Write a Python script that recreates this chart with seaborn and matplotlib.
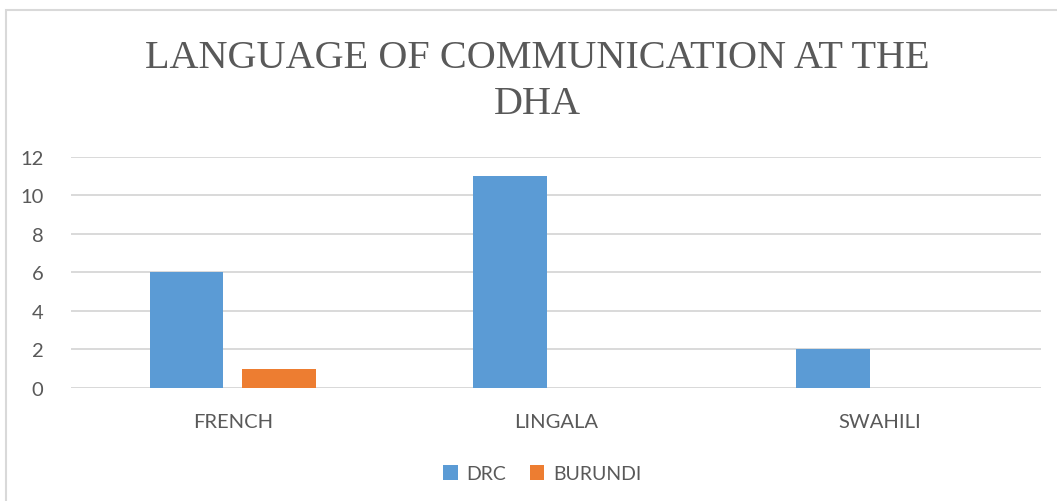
import matplotlib
matplotlib.use("Agg")
import matplotlib.pyplot as plt
from matplotlib.patches import Rectangle, Patch
import pandas as pd
import seaborn as sns

# Chart data
languages = ["FRENCH", "LINGALA", "SWAHILI"]
drc_counts = [6, 11, 2]
burundi_counts = [1, 0, 0]
series_names = ["DRC", "BURUNDI"]
y_ticks = [0, 2, 4, 6, 8, 10, 12]

colors = {"DRC": "#5b9bd5", "BURUNDI": "#ed7d31"}
text_gray = "#595959"
grid_gray = "#d9d9d9"

df = pd.DataFrame({
    "language": languages * 2,
    "country": [series_names[0]] * len(languages) + [series_names[1]] * len(languages),
    "count": drc_counts + burundi_counts,
})

sns.set_theme(style="white")
plt.rcParams["font.family"] = ["Lato", "DejaVu Sans"]

fig = plt.figure(figsize=(10.57, 5.02), dpi=100)
ax = fig.add_axes([0.0672, 0.2251, 0.9177, 0.4602])

sns.barplot(data=df, x="language", y="count", hue="country",
            hue_order=series_names, order=languages, palette=colors,
            width=0.57, gap=0.2, saturation=1, legend=False, ax=ax,
            edgecolor="none", linewidth=0)

ax.set_ylim(0, 12)
ax.set_xlim(-0.5, len(languages) - 0.5)
ax.set_yticks(y_ticks)
ax.yaxis.grid(True, color=grid_gray, linewidth=1.4)
ax.set_axisbelow(True)
for s in ax.spines.values():
    s.set_visible(False)
ax.axhline(0, color=grid_gray, linewidth=1.4, zorder=0.5)

ax.set_xlabel("")
ax.set_ylabel("")
ax.tick_params(axis="y", length=0, pad=20, labelsize=14.5, labelcolor=text_gray)
ax.tick_params(axis="x", length=0, pad=18, labelsize=14.5, labelcolor=text_gray)

fig.text(0.508, 0.838, "LANGUAGE OF COMMUNICATION AT THE\nDHA",
         ha="center", va="center", fontsize=29, color=text_gray,
         family=["Liberation Serif", "DejaVu Serif"], linespacing=1.32)

handles = [Patch(facecolor=colors[n], edgecolor="none", label=n) for n in series_names]
fig.legend(handles=handles, loc="center", bbox_to_anchor=(0.513, 0.054), ncol=2,
           frameon=False, fontsize=14, handlelength=0.75, handleheight=0.75,
           handletextpad=0.45, columnspacing=1.2, labelcolor=text_gray)

# Light chart-area border
fig.add_artist(Rectangle((6 / 1057, -0.2), 1.2, 0.2 + (1 - 11 / 502),
                         transform=fig.transFigure, fill=False,
                         edgecolor=grid_gray, linewidth=1.5))

fig.savefig("out.png", dpi=100, facecolor="white")
